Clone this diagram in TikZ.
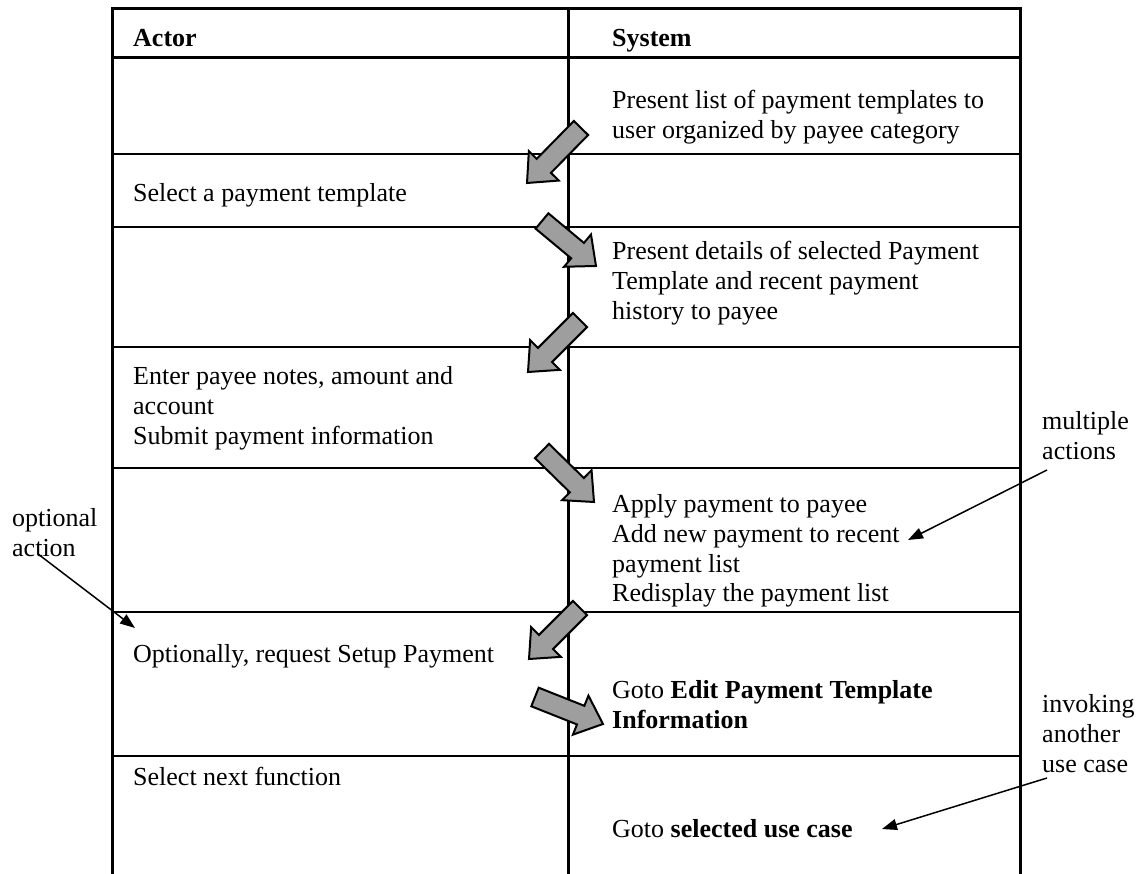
\documentclass[tikz,border=0pt]{standalone}
\usepackage{fontspec}
\setmainfont{Liberation Serif}
\usetikzlibrary{arrows.meta,calc}

% left-aligned multi-line cell text, baseline on its first line
\newcommand\celltext[1]{\begin{tabular}[t]{@{}l@{}}#1\end{tabular}}

% grey block arrow from tail centre #1 to tip #2
\newcommand\blockarrow[2]{%
  \draw[blk] let \p1=(#1), \p2=(#2),
      \n1={atan2(\y2-\y1,\x2-\x1)}, \n2={veclen(\x2-\x1,\y2-\y1)} in
    [shift={(\p1)}, rotate=\n1]
    (0pt,-10pt) -- ({\n2-24pt},-10pt) -- ({\n2-24pt},-21pt) -- ({\n2},0pt)
    -- ({\n2-24pt},21pt) -- ({\n2-24pt},10pt) -- (0pt,10pt) -- cycle;}

\begin{document}
\begin{tikzpicture}[x=1pt,y=-1pt,
  txt/.style={anchor=base west, inner sep=0pt, font=\fontsize{26pt}{30pt}\selectfont},
  heavy/.style={line width=3pt},
  light/.style={line width=1.6pt},
  note/.style={line width=1.5pt, -{Triangle[length=15pt,width=11pt]}},
  blk/.style={draw=black, line width=2pt, fill=black!38, line join=miter}
]
\useasboundingbox (0,0) rectangle (1144,874);

% table frame and rows
\def\xl{112}\def\xm{568}\def\xr{1020}
\draw[heavy] (\xl,880) -- (\xl,9) -- (\xr,9) -- (\xr,880);
\draw[heavy] (\xm,9) -- (\xm,880);
\draw[heavy] (\xl,58) -- (\xr,58);
\foreach \yy in {154,227,347,468,612,756} \draw[light] (\xl,\yy) -- (\xr,\yy);

% headers
\node[txt] (hA) at (133,47) {\bfseries Actor};
\node[txt] (hS) at (612,47) {\bfseries System};

% cells
\node[txt] (s1) at (612,109) {\celltext{Present list of payment templates to\\user organized by payee category}};
\node[txt] (a2) at (133,202) {Select a payment template};
\node[txt] (s3) at (612,260) {\celltext{Present details of selected Payment\\Template and recent payment\\history to payee}};
\node[txt] (a4) at (133,385) {\celltext{Enter payee notes, amount and\\account\\Submit payment information}};
\node[txt] (s5) at (612,512) {\celltext{Apply payment to payee\\Add new payment to recent\\payment list\\Redisplay the payment list}};
\node[txt] (a6) at (133,662) {Optionally, request Setup Payment};
\node[txt] (s6) at (612,698) {\celltext{Goto \textbf{Edit Payment Template}\\\textbf{Information}}};
\node[txt] (a7) at (133,785) {Select next function};
\node[txt] (s7) at (612,837) {Goto \textbf{selected use case}};

% side notes
\node[txt] (nOpt) at (12,526) {\celltext{optional\\action}};
\node[txt] (nMul) at (1042,430) {\celltext{multiple\\actions}};
\node[txt] (nInv) at (1042,712) {\celltext{invoking\\another\\use case}};

% flow arrows between the two columns
\coordinate (f1s) at (581,128); \coordinate (f1e) at (527,183);
\coordinate (f2s) at (542,221); \coordinate (f2e) at (596,266);
\coordinate (f3s) at (580,320); \coordinate (f3e) at (528,372);
\coordinate (f4s) at (542,451); \coordinate (f4e) at (594,502);
\coordinate (f5s) at (580,608); \coordinate (f5e) at (529,659);
\coordinate (f6s) at (535,697); \coordinate (f6e) at (603,724);
\blockarrow{f1s}{f1e}
\blockarrow{f2s}{f2e}
\blockarrow{f3s}{f3e}
\blockarrow{f4s}{f4e}
\blockarrow{f5s}{f5e}
\blockarrow{f6s}{f6e}

% note pointers
\coordinate (oS) at (38,554); \coordinate (oT) at (135,628);
\coordinate (mS) at (1047,470); \coordinate (mT) at (908,540);
\coordinate (iS) at (1047,778); \coordinate (iT) at (882,829);
\draw[note] (oS) -- (oT);
\draw[note] (mS) -- (mT);
\draw[note] (iS) -- (iT);
\end{tikzpicture}
\end{document}
